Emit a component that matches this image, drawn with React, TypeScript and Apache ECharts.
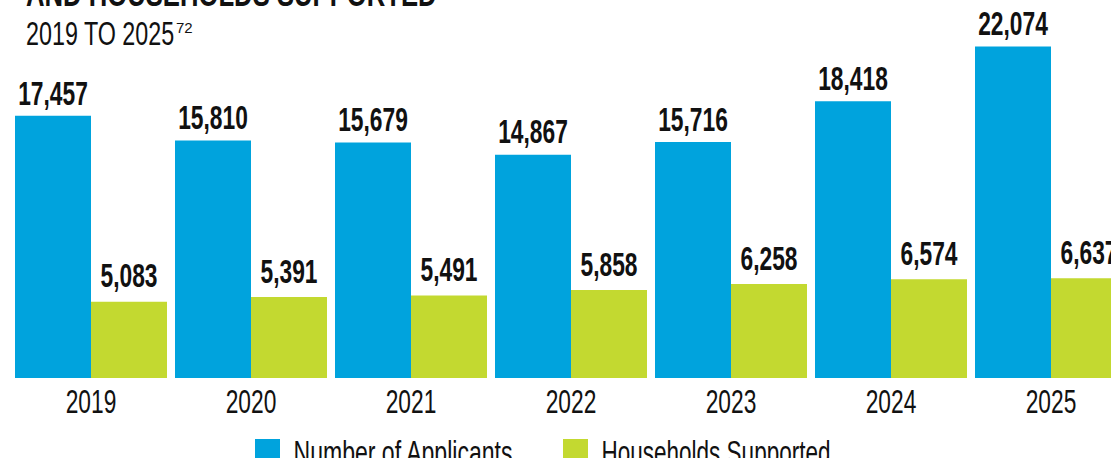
import React, { useEffect, useRef } from "react";
import * as echarts from "echarts";

const years = ["2019", "2020", "2021", "2022", "2023", "2024", "2025"];
const applicants = [17457, 15810, 15679, 14867, 15716, 18418, 22074];
const households = [5083, 5391, 5491, 5858, 6258, 6574, 6637];
const seriesNames = ["Number of Applicants", "Households Supported"];
const titleText = "AND HOUSEHOLDS SUPPORTED";
const subtitleText = "2019 TO 2025";
const footnoteMark = "72";

const BLUE = "#00a3dd";
const GREEN = "#c3d930";
const FONT = "'Liberation Sans', Arial, sans-serif";
const SQUEEZE = 0.67;
const INK = "#111111";

export default function App() {
  const ref = useRef<HTMLDivElement>(null);
  useEffect(() => {
    if (!ref.current) return;
    const chart = echarts.init(ref.current, null, { renderer: "svg" });
    const fmt = (v: number) => Number(v).toLocaleString("en-US");
    const labelData = years.map((_, i) => [i, applicants[i], households[i]]);

    const squeezedText = (
      text: string,
      x: number,
      y: number,
      size: number,
      bold: boolean,
      align: string = "center",
      sx: number = SQUEEZE
    ) => ({
      type: "text",
      x,
      y,
      scaleX: sx,
      silent: true,
      style: {
        text,
        fontFamily: FONT,
        fontWeight: bold ? "bold" : "normal",
        fontSize: size,
        fill: INK,
        align,
        verticalAlign: "middle",
      },
    });

    chart.setOption({
      animation: false,
      backgroundColor: "#ffffff",
      grid: {
        left: 11,
        width: 1120,
        top: 2.5,
        height: 375.5,
        containLabel: false,
        outerBoundsMode: "none",
      },
      xAxis: {
        type: "category",
        data: years,
        axisLine: { show: false },
        axisTick: { show: false },
        axisLabel: { show: false },
      },
      yAxis: { type: "value", min: 0, max: 25000, show: false },
      series: [
        {
          name: seriesNames[0],
          type: "bar",
          data: applicants,
          barWidth: 76,
          barGap: "0%",
          itemStyle: { color: BLUE },
        },
        {
          name: seriesNames[1],
          type: "bar",
          data: households,
          barWidth: 76,
          barGap: "0%",
          itemStyle: { color: GREEN },
        },
        {
          name: "labels",
          type: "custom",
          data: labelData,
          encode: { x: 0, y: [1, 2] },
          clip: false,
          silent: true,
          z: 10,
          renderItem: (params: any, api: any) => {
            const i = api.value(0);
            const a = api.value(1);
            const h = api.value(2);
            const pa = api.coord([i, a]);
            const ph = api.coord([i, h]);
            const p0 = api.coord([i, 0]);
            return {
              type: "group",
              children: [
                squeezedText(fmt(a), pa[0] - 38, pa[1] - 23, 34, true),
                squeezedText(fmt(h), ph[0] + 38, ph[1] - 26, 34, true),
                squeezedText(years[i], p0[0], p0[1] + 23, 34, false),
              ],
            };
          },
        },
      ],
      graphic: [
        squeezedText(titleText, 26, -6, 36, true, "left", 0.713),
        squeezedText(subtitleText, 26, 33, 34, false, "left", 0.686),
        squeezedText(footnoteMark, 176, 27.5, 15, false, "left", 1),
        {
          type: "rect",
          shape: { x: 255, y: 439, width: 25, height: 25 },
          style: { fill: BLUE },
        },
        squeezedText(seriesNames[0], 293.5, 452.5, 34, false, "left", 0.678),
        {
          type: "rect",
          shape: { x: 563, y: 439, width: 25, height: 25 },
          style: { fill: GREEN },
        },
        squeezedText(seriesNames[1], 601.5, 452.5, 34, false, "left", 0.662),
      ],
    });
    return () => chart.dispose();
  }, []);
  return (
    <div
      ref={ref}
      style={{ position: "absolute", left: 0, top: 0, width: 1111, height: 458 }}
    />
  );
}
